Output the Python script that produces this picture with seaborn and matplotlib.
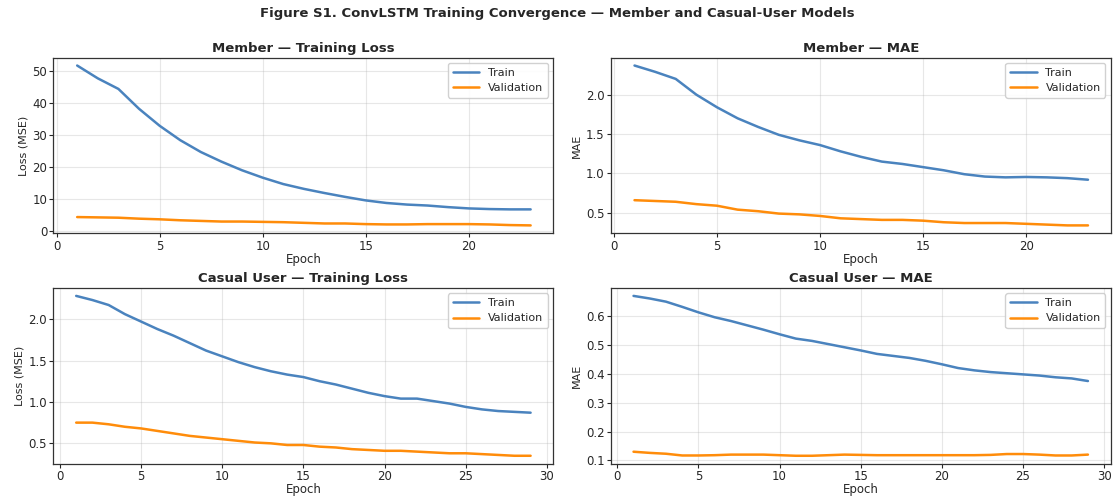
import numpy as np
import pandas as pd
import seaborn as sns
import matplotlib
matplotlib.use("Agg")
import matplotlib.pyplot as plt

# Per-epoch training history
member_loss_train = [51.8, 47.8, 44.5, 38.3, 33.0, 28.5, 24.8, 21.8, 19.1, 16.8, 14.8, 13.3,
                     12.0, 10.8, 9.7, 8.9, 8.4, 8.1, 7.6, 7.2, 7.0, 6.9, 6.9]
member_loss_val = [4.5, 4.4, 4.3, 4.0, 3.8, 3.5, 3.3, 3.1, 3.1, 3.0, 2.9, 2.7,
                   2.5, 2.5, 2.3, 2.2, 2.2, 2.3, 2.3, 2.3, 2.2, 2.0, 1.9]
member_mae_train = [2.37, 2.29, 2.20, 2.00, 1.84, 1.70, 1.59, 1.49, 1.42, 1.36, 1.28, 1.21,
                    1.15, 1.12, 1.08, 1.04, 0.99, 0.96, 0.95, 0.955, 0.95, 0.94, 0.92]
member_mae_val = [0.66, 0.65, 0.64, 0.61, 0.59, 0.54, 0.52, 0.49, 0.48, 0.46, 0.43, 0.42,
                  0.41, 0.41, 0.40, 0.38, 0.37, 0.37, 0.37, 0.36, 0.35, 0.34, 0.34]

casual_loss_train = [2.28, 2.23, 2.17, 2.06, 1.97, 1.88, 1.80, 1.71, 1.62, 1.55, 1.48, 1.42,
                     1.37, 1.33, 1.30, 1.25, 1.21, 1.16, 1.11, 1.07, 1.04, 1.04, 1.01, 0.98,
                     0.94, 0.91, 0.89, 0.88, 0.87]
casual_loss_val = [0.75, 0.75, 0.73, 0.70, 0.68, 0.65, 0.62, 0.59, 0.57, 0.55, 0.53, 0.51,
                   0.50, 0.48, 0.48, 0.46, 0.45, 0.43, 0.42, 0.41, 0.41, 0.40, 0.39, 0.38,
                   0.38, 0.37, 0.36, 0.35, 0.35]
casual_mae_train = [0.670, 0.661, 0.650, 0.632, 0.613, 0.596, 0.583, 0.568, 0.553, 0.537,
                    0.522, 0.514, 0.503, 0.492, 0.481, 0.469, 0.462, 0.455, 0.445, 0.433,
                    0.420, 0.412, 0.406, 0.402, 0.398, 0.394, 0.388, 0.384, 0.375]
casual_mae_val = [0.130, 0.126, 0.123, 0.117, 0.117, 0.118, 0.120, 0.120, 0.120, 0.118,
                  0.116, 0.116, 0.118, 0.120, 0.119, 0.118, 0.118, 0.118, 0.118, 0.118,
                  0.118, 0.118, 0.119, 0.122, 0.122, 0.120, 0.117, 0.117, 0.120]

panels = [
    ("Member — Training Loss", "Loss (MSE)", member_loss_train, member_loss_val),
    ("Member — MAE", "MAE", member_mae_train, member_mae_val),
    ("Casual User — Training Loss", "Loss (MSE)", casual_loss_train, casual_loss_val),
    ("Casual User — MAE", "MAE", casual_mae_train, casual_mae_val),
]

sns.set_style("ticks")
plt.rcParams["font.family"] = ["DejaVu Sans"]

fig, axes = plt.subplots(2, 2, figsize=(11.14, 4.96), dpi=100)
palette = {"Train": "#4A83BE", "Validation": "#FF8C0A"}

for ax, (title, ylabel, train, val) in zip(axes.flat, panels):
    epochs = np.arange(1, len(train) + 1)
    df = pd.DataFrame({
        "Epoch": np.concatenate([epochs, epochs]),
        "value": train + val,
        "Split": ["Train"] * len(train) + ["Validation"] * len(val),
    })
    sns.lineplot(data=df, x="Epoch", y="value", hue="Split", palette=palette,
                 linewidth=1.8, ax=ax)
    ax.set_title(title, fontsize=9.5, fontweight="bold", pad=4)
    ax.set_xlabel("Epoch", fontsize=8.5, labelpad=0)
    ax.set_ylabel(ylabel, fontsize=8, labelpad=3)
    ax.tick_params(labelsize=8.5, length=3, pad=1.5)
    ax.grid(True, alpha=0.3, color="#b0b0b0", linewidth=0.8)
    for sp in ax.spines.values():
        sp.set_color("#333333")
        sp.set_linewidth(0.9)
    leg = ax.legend(loc="upper right", fontsize=8, frameon=True, framealpha=0.9,
                    borderpad=0.4, handlelength=2.4)
    leg.get_frame().set_edgecolor("#cccccc")

axes[0, 0].set_xlim(-0.15, 24.1)
axes[0, 0].set_yticks([0, 10, 20, 30, 40, 50])
axes[0, 1].set_xlim(-0.15, 24.1)
axes[0, 1].set_yticks([0.5, 1.0, 1.5, 2.0])
axes[1, 0].set_xlim(-0.4, 30.4)
axes[1, 0].set_yticks([0.5, 1.0, 1.5, 2.0])
axes[1, 1].set_xlim(-0.4, 30.4)

fig.suptitle("Figure S1. ConvLSTM Training Convergence — Member and Casual-User Models",
             fontsize=9.5, fontweight="bold", y=0.985)
fig.subplots_adjust(left=0.048, right=0.997, top=0.884, bottom=0.065,
                    wspace=0.115, hspace=0.31)
fig.savefig("out.png", dpi=100)
